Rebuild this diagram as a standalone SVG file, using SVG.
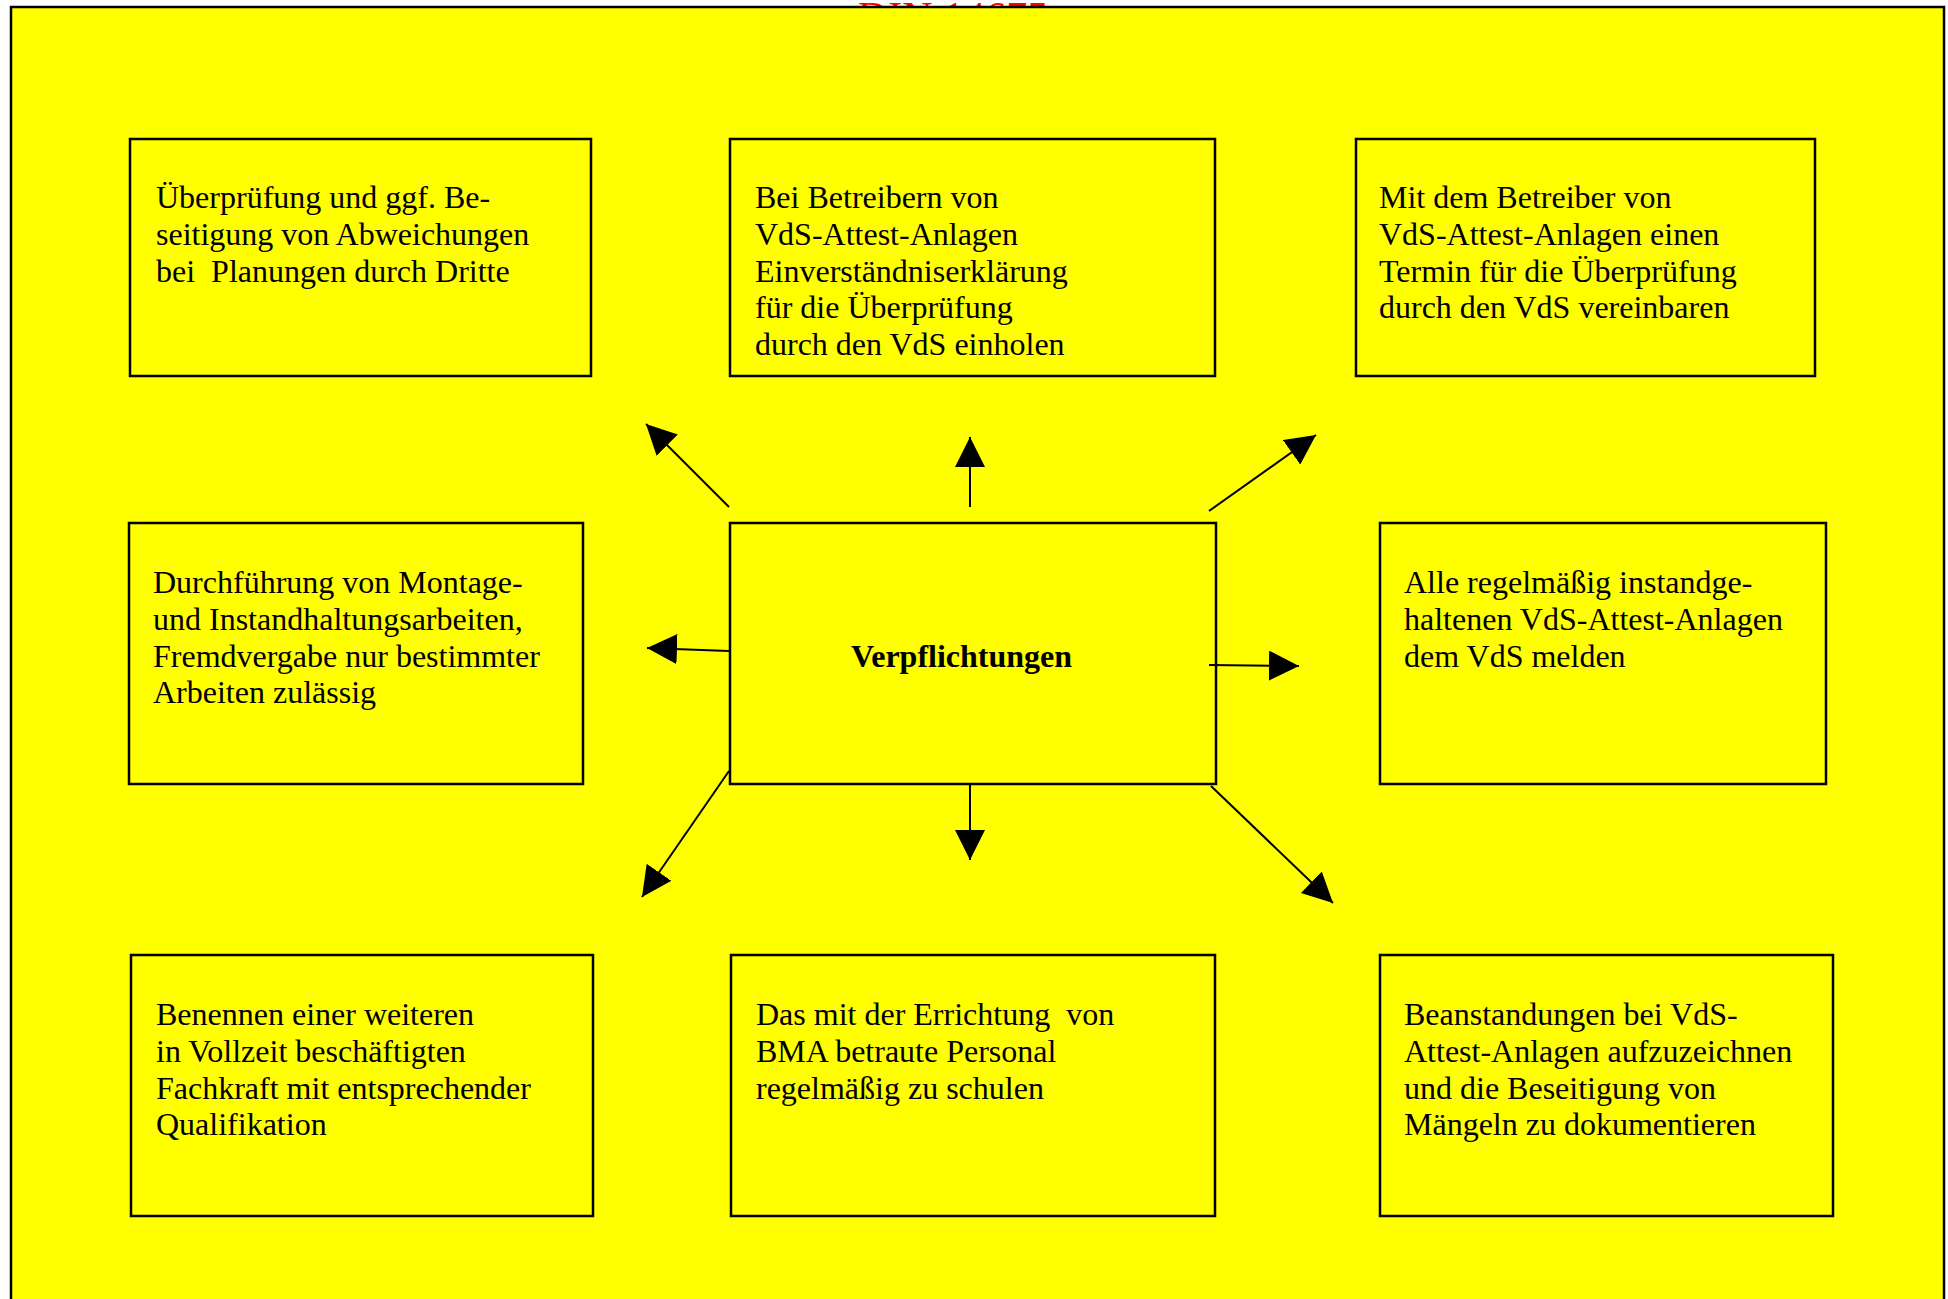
<svg xmlns="http://www.w3.org/2000/svg" width="1948" height="1299" viewBox="0 0 1948 1299">
<style>
.box{fill:#ffff00;stroke:#000;stroke-width:2.5}
.t{font-family:"Liberation Serif","Times New Roman",serif;font-size:32px;fill:#000;white-space:pre}
.b{font-weight:bold}
.con line{stroke:#000;stroke-width:2;marker-end:url(#ah)}
</style>
<defs>
<marker id="ah" markerUnits="userSpaceOnUse" markerWidth="30" markerHeight="30" refX="30" refY="15" orient="auto" viewBox="0 0 30 30">
<path d="M0,0 L30,15 L0,30 z" fill="#000"/>
</marker>
</defs>
<rect x="0" y="0" width="1948" height="1299" fill="#fff"/>
<text x="858" y="31" font-family="Liberation Serif, serif" font-size="42" fill="#ff0000">DIN 14675</text>
<rect id="frame" x="11" y="7" width="1933" height="1310" fill="#ffff00" stroke="#000" stroke-width="2.5"/>

<g id="n1"><rect class="box" x="130" y="139" width="461" height="237"/>
<text class="t" x="156" y="208"><tspan x="156">Überprüfung und ggf. Be-</tspan><tspan x="156" dy="36.8">seitigung von Abweichungen</tspan><tspan x="156" dy="36.8">bei  Planungen durch Dritte</tspan></text></g>

<g id="n2"><rect class="box" x="730" y="139" width="485" height="237"/>
<text class="t" x="755" y="208"><tspan x="755">Bei Betreibern von</tspan><tspan x="755" dy="36.8">VdS-Attest-Anlagen</tspan><tspan x="755" dy="36.8">Einverständniserklärung</tspan><tspan x="755" dy="36.8">für die Überprüfung</tspan><tspan x="755" dy="36.8">durch den VdS einholen</tspan></text></g>

<g id="n3"><rect class="box" x="1356" y="139" width="459" height="237"/>
<text class="t" x="1379" y="208"><tspan x="1379">Mit dem Betreiber von</tspan><tspan x="1379" dy="36.8">VdS-Attest-Anlagen einen</tspan><tspan x="1379" dy="36.8">Termin für die Überprüfung</tspan><tspan x="1379" dy="36.8">durch den VdS vereinbaren</tspan></text></g>

<g id="n4"><rect class="box" x="129" y="523" width="454" height="261"/>
<text class="t" x="153" y="593"><tspan x="153">Durchführung von Montage-</tspan><tspan x="153" dy="36.8">und Instandhaltungsarbeiten,</tspan><tspan x="153" dy="36.8">Fremdvergabe nur bestimmter</tspan><tspan x="153" dy="36.8">Arbeiten zulässig</tspan></text></g>

<g id="center"><rect class="box" x="730" y="523" width="486" height="261"/>
<text class="t b" x="851" y="667">Verpflichtungen</text></g>

<g id="n6"><rect class="box" x="1380" y="523" width="446" height="261"/>
<text class="t" x="1404" y="593"><tspan x="1404">Alle regelmäßig instandge-</tspan><tspan x="1404" dy="36.8">haltenen VdS-Attest-Anlagen</tspan><tspan x="1404" dy="36.8">dem VdS melden</tspan></text></g>

<g id="n7"><rect class="box" x="131" y="955" width="462" height="261"/>
<text class="t" x="156" y="1025"><tspan x="156">Benennen einer weiteren</tspan><tspan x="156" dy="36.8">in Vollzeit beschäftigten</tspan><tspan x="156" dy="36.8">Fachkraft mit entsprechender</tspan><tspan x="156" dy="36.8">Qualifikation</tspan></text></g>

<g id="n8"><rect class="box" x="731" y="955" width="484" height="261"/>
<text class="t" x="756" y="1025"><tspan x="756">Das mit der Errichtung  von</tspan><tspan x="756" dy="36.8">BMA betraute Personal</tspan><tspan x="756" dy="36.8">regelmäßig zu schulen</tspan></text></g>

<g id="n9"><rect class="box" x="1380" y="955" width="453" height="261"/>
<text class="t" x="1404" y="1025"><tspan x="1404">Beanstandungen bei VdS-</tspan><tspan x="1404" dy="36.8">Attest-Anlagen aufzuzeichnen</tspan><tspan x="1404" dy="36.8">und die Beseitigung von</tspan><tspan x="1404" dy="36.8">Mängeln zu dokumentieren</tspan></text></g>

<g id="connectors" class="con">
<line x1="729" y1="507" x2="646" y2="424"/>
<line x1="970" y1="507" x2="970" y2="437"/>
<line x1="1209" y1="511" x2="1316" y2="435"/>
<line x1="729" y1="651" x2="647" y2="648"/>
<line x1="1209" y1="665" x2="1299" y2="666"/>
<line x1="729" y1="771" x2="642" y2="897"/>
<line x1="970" y1="784" x2="970" y2="860"/>
<line x1="1211" y1="786" x2="1333" y2="903"/>
</g>
</svg>
